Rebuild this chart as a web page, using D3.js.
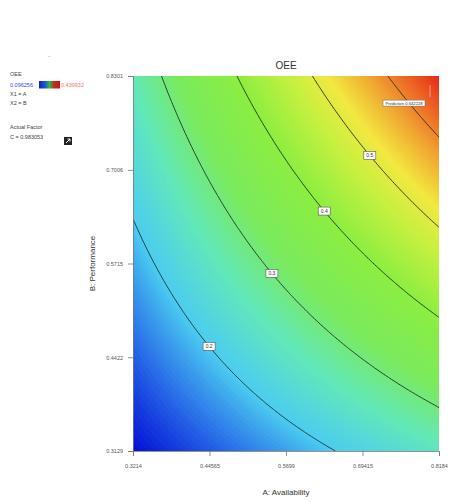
<!DOCTYPE html>
<html>
<head>
<meta charset="utf-8">
<script src="https://cdn.jsdelivr.net/npm/d3@7"></script>
<style>
  body { margin: 0; background: #fff; }
  text { font-family: "Liberation Sans", Arial, sans-serif; }
</style>
</head>
<body>
<div id="chart"></div>
<script>
// Factor ranges and tick labels (Design-Expert contour plot)
var a_range = [0.3214, 0.8184];
var b_range = [0.3129, 0.8301];
var a_ticks = ['0.3214', '0.44565', '0.5699', '0.69415', '0.8184'];
var b_ticks = ['0.3129', '0.4422', '0.5715', '0.7006', '0.8301'];
// Actual factor C, OEE = A * B * C
var factor_c = 0.983053;
// Contour levels and where their labels sit (A value along the line)
var levels       = [0.2, 0.3, 0.4, 0.5, 0.6];
var level_labels = ['0.2', '0.3', '0.4', '0.5', ''];
var label_a      = [0.445, 0.547, 0.632, 0.706, null];
// Colour ramp, OEE value -> colour
var ramp_values = [0.099, 0.15, 0.2, 0.26, 0.32, 0.4, 0.47, 0.52, 0.58, 0.668];
var ramp_colors = ['#0410d6', '#2a70e8', '#4ccdf0', '#62e8b8', '#7aea5e', '#8cee40', '#c8f040', '#f2e840', '#f0a030', '#e82818'];
// Legend
var legend_lines = ['OEE', 'X1 = A', 'X2 = B', '', 'Actual Factor', 'C = 0.983053'];
var legend_low   = '0.096256';
var legend_high  = '0.439932';
// Flag
var flag_point = [0.8038, 0.801];
var flag_text  = 'Prediction 0.642228';

var chart_width = 450, chart_height = 502;
var plot_left = 133, plot_right = 439, plot_top = 76, plot_bottom = 451;

var svg = d3.select('#chart')
    .append('svg')
    .attr('width', chart_width)
    .attr('height', chart_height);

var scale_x = d3.scaleLinear().domain(a_range).range([plot_left, plot_right]);
var scale_y = d3.scaleLinear().domain(b_range).range([plot_bottom, plot_top]);

function oee(a, b) { return a * b * factor_c; }

var vmin = oee(a_range[0], b_range[0]);
var vmax = oee(a_range[1], b_range[1]);

var color = d3.scaleLinear()
    .domain(ramp_values)
    .range(ramp_colors)
    .interpolate(d3.interpolateRgb)
    .clamp(true);

// Grid of the response surface
var nx = 200, ny = 200;
var values = new Array(nx * ny);
for (var j = 0; j < ny; j++) {
    for (var i = 0; i < nx; i++) {
        var a = a_range[0] + i / (nx - 1) * (a_range[1] - a_range[0]);
        var b = b_range[0] + j / (ny - 1) * (b_range[1] - b_range[0]);
        values[j * nx + i] = oee(a, b);
    }
}

var grid_path = d3.geoPath(d3.geoTransform({
    point: function(gx, gy) {
        var a = a_range[0] + (gx - 0.5) / (nx - 1) * (a_range[1] - a_range[0]);
        var b = b_range[0] + (gy - 0.5) / (ny - 1) * (b_range[1] - b_range[0]);
        this.stream.point(scale_x(a), scale_y(b));
    }
}));

svg.append('clipPath')
    .attr('id', 'plot-clip')
    .append('rect')
    .attr('x', plot_left).attr('y', plot_top)
    .attr('width', plot_right - plot_left).attr('height', plot_bottom - plot_top);

var plot = svg.append('g').attr('clip-path', 'url(#plot-clip)');

plot.append('rect')
    .attr('x', plot_left).attr('y', plot_top)
    .attr('width', plot_right - plot_left).attr('height', plot_bottom - plot_top)
    .attr('fill', color(vmin));

var nbands = 160;
var step = (vmax - vmin) / nbands;
var band_thresholds = d3.range(1, nbands).map(function(k){ return vmin + k * step; });

plot.append('g')
    .selectAll('path')
    .data(d3.contours().size([nx, ny]).thresholds(band_thresholds)(values))
    .enter()
    .append('path')
    .attr('d', grid_path)
    .attr('fill', function(d){ return color(d.value + step / 2); });

// Contour lines
plot.append('g')
    .selectAll('path')
    .data(d3.contours().size([nx, ny]).thresholds(levels)(values))
    .enter()
    .append('path')
    .attr('d', grid_path)
    .attr('fill', 'none')
    .attr('stroke', '#1c2c22')
    .attr('stroke-width', 0.9);

// Contour labels
var labels = plot.append('g')
    .selectAll('g')
    .data(levels.map(function(v, k){ return { value: v, text: level_labels[k], a: label_a[k] }; })
        .filter(function(d){ return d.a !== null; }))
    .enter()
    .append('g')
    .attr('transform', function(d){
        var b = d.value / (d.a * factor_c);
        return 'translate(' + scale_x(d.a) + ',' + scale_y(b) + ')';
    });

labels.append('rect')
    .attr('x', -6).attr('y', -4)
    .attr('width', 12).attr('height', 8)
    .attr('fill', '#fff')
    .attr('stroke', '#555')
    .attr('stroke-width', 0.6);

labels.append('text')
    .attr('text-anchor', 'middle')
    .attr('dy', '0.35em')
    .attr('font-size', 5)
    .attr('fill', '#333')
    .text(function(d){ return d.text; });

// Flag
var fx = scale_x(flag_point[0]), fy = scale_y(flag_point[1]);
plot.append('line')
    .attr('x1', fx).attr('x2', fx)
    .attr('y1', fy - 12).attr('y2', fy)
    .attr('stroke', '#eab4a4')
    .attr('stroke-width', 0.8);
plot.append('rect')
    .attr('x', fx - 47).attr('y', fy + 3)
    .attr('width', 42).attr('height', 6)
    .attr('fill', '#fff')
    .attr('stroke', '#666')
    .attr('stroke-width', 0.5);
plot.append('text')
    .attr('x', fx - 26).attr('y', fy + 6)
    .attr('dy', '0.35em')
    .attr('text-anchor', 'middle')
    .attr('font-size', 4.2)
    .attr('fill', '#333')
    .text(flag_text);

// Axes
var axis_x = d3.axisBottom(scale_x)
    .tickValues(a_ticks.map(Number))
    .tickFormat(function(d, k){ return a_ticks[k]; })
    .tickSize(5)
    .tickPadding(8);

svg.append('g')
    .attr('class', 'x-axis')
    .attr('transform', 'translate(0,' + plot_bottom + ')')
    .call(axis_x);

var axis_y = d3.axisLeft(scale_y)
    .tickValues(b_ticks.map(Number))
    .tickFormat(function(d, k){ return b_ticks[k]; })
    .tickSize(5)
    .tickPadding(5);

svg.append('g')
    .attr('class', 'y-axis')
    .attr('transform', 'translate(' + plot_left + ',0)')
    .call(axis_y);

svg.selectAll('.x-axis path, .y-axis path, .tick line')
    .attr('stroke', '#777')
    .attr('stroke-width', 0.8);
svg.selectAll('.tick text')
    .attr('font-size', 5.5)
    .attr('fill', '#555')
    .attr('font-family', '"Liberation Sans", Arial, sans-serif');

// Titles
svg.append('text')
    .attr('x', (plot_left + plot_right) / 2).attr('y', 69)
    .attr('text-anchor', 'middle')
    .attr('font-size', 10)
    .attr('fill', '#333')
    .text('OEE');

svg.append('text')
    .attr('x', (plot_left + plot_right) / 2).attr('y', 495)
    .attr('text-anchor', 'middle')
    .attr('font-size', 8)
    .attr('fill', '#333')
    .text('A: Availability');

svg.append('text')
    .attr('transform', 'translate(95,' + (plot_top + plot_bottom) / 2 + ') rotate(-90)')
    .attr('text-anchor', 'middle')
    .attr('font-size', 8)
    .attr('fill', '#333')
    .text('B: Performance');

// Legend
var legend = svg.append('g').attr('font-size', 5.5).attr('fill', '#444');
var legend_y = [76, 96, 104.5, 0, 129, 139];
legend.selectAll('text.lg')
    .data(legend_lines)
    .enter()
    .append('text')
    .attr('class', 'lg')
    .attr('x', 10)
    .attr('y', function(d, k){ return legend_y[k]; })
    .text(function(d){ return d; });

legend.append('text')
    .attr('x', 10).attr('y', 86.5)
    .attr('fill', '#3048e0')
    .text(legend_low);

var grad = svg.append('defs').append('linearGradient').attr('id', 'legend-grad');
grad.selectAll('stop')
    .data([0, 0.3, 0.5, 0.7, 1])
    .enter()
    .append('stop')
    .attr('offset', function(d){ return d; })
    .attr('stop-color', function(d, k){ return ['#1020c8', '#1a5ad0', '#2ec040', '#c03020', '#c81818'][k]; });

legend.append('rect')
    .attr('x', 39).attr('y', 81)
    .attr('width', 21).attr('height', 7.5)
    .attr('fill', 'url(#legend-grad)');

legend.append('text')
    .attr('x', 61).attr('y', 86.5)
    .attr('fill', '#f07070')
    .text(legend_high);

legend.append('text')
    .attr('x', 48).attr('y', 58)
    .attr('fill', '#aaa')
    .attr('font-size', 7)
    .text('-');

// Export icon
var icon = svg.append('g').attr('transform', 'translate(64,137)');
icon.append('rect')
    .attr('width', 8).attr('height', 8)
    .attr('fill', '#222');
icon.append('path')
    .attr('d', 'M2,6 L6,2 M3.5,2 L6,2 L6,4.5')
    .attr('stroke', '#fff')
    .attr('stroke-width', 1)
    .attr('fill', 'none');
</script>
</body>
</html>
